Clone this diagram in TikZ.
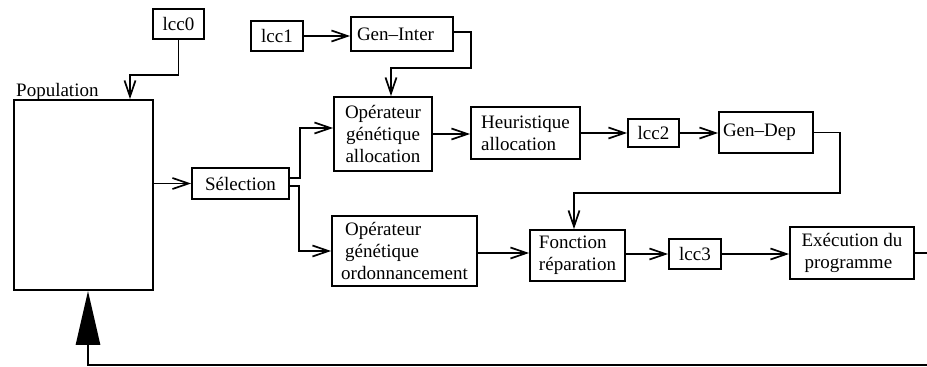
\documentclass[tikz,border=0pt]{standalone}
\usepackage{fontspec}
\setmainfont{Liberation Serif}
\usetikzlibrary{arrows.meta}
\begin{document}
\begin{tikzpicture}[x=1pt,y=-1pt,
  font=\fontsize{19}{22}\selectfont,
  box/.style={draw, line width=1.8pt, inner sep=0pt, align=center},
  lbox/.style={box, align=left},
  arr/.style={draw, line width=1.8pt, -{Straight Barb[length=16pt,width=11pt,line width=1.7pt]}},
  fb/.style={draw, line width=2.8pt, -{Triangle[length=54pt,width=24pt]}}]
\useasboundingbox (0,0) rectangle (927,367);

% population and selection
\node[box, minimum width=139pt, minimum height=190pt] (pop) at (83.5,195) {};
\node[anchor=base west, inner sep=0pt] (poplab) at (16,96) {Population};
\node[box, minimum width=51pt, minimum height=30pt] (lcc0) at (178.5,24) {lcc0};
\node[box, minimum width=97pt, minimum height=31pt] (sel) at (240.5,183.5) {Sélection};

% allocation branch
\node[box, minimum width=52pt, minimum height=30pt] (lcc1) at (277,36) {lcc1};
\node[lbox, minimum width=102pt, minimum height=34pt, inner xsep=6pt, text width=90pt] (geninter) at (402,34) {Gen--Inter};
\node[box, minimum width=98pt, minimum height=74pt] (opalloc) at (383,134) {Opérateur\\génétique\\allocation};
\node[lbox, minimum width=109pt, minimum height=52pt] (heur) at (525.5,133) {Heuristique\\allocation};
\node[box, minimum width=51pt, minimum height=28pt] (lcc2) at (653.5,133) {lcc2};
\node[lbox, minimum width=94pt, minimum height=41pt, inner xsep=4pt, text width=86pt] (gendep) at (766,132.5) {Gen--Dep};

% scheduling branch
\node[lbox, minimum width=145pt, minimum height=70pt] (opord) at (404.5,251) {\hspace*{4pt}Opérateur\\\hspace*{4pt}génétique\\ordonnancement};
\node[lbox, minimum width=95pt, minimum height=51pt] (fonc) at (577.5,255.5) {Fonction\\réparation};
\node[box, minimum width=52pt, minimum height=30pt] (lcc3) at (695,254) {lcc3};
\node[lbox, minimum width=124pt, minimum height=52pt] (exec) at (852,253) {Exécution du\\\hspace*{3pt}programme};

\coordinate (ret) at (932,365);

% connectors
\draw[arr] (lcc0.south) -- ++(0,35) -| ([xshift=46.5pt]pop.north);
\draw[arr] (pop.east |- sel.west) -- (sel.west);
\draw[arr] ([yshift=5.5pt]sel.east) -- ++(10,0) |- ([yshift=6pt]opalloc.west);
\draw[arr] ([yshift=-2.5pt]sel.east) -- ++(9,0) |- (opord.west);
\draw[arr] (lcc1.east) -- (lcc1.east -| geninter.west);
\draw[arr] ([yshift=2pt]geninter.east) -- ++(17,0) -- ++(0,36) -| ([xshift=8pt]opalloc.north);
\draw[arr] (opalloc.east) -- (opalloc.east -| heur.west);
\draw[arr] (heur.east) -- (lcc2.west);
\draw[arr] (lcc2.east) -- (lcc2.east -| gendep.west);
\draw[arr] (gendep.east) -- ++(26,0) -- ++(0,60.5) -| ([xshift=-3.5pt]fonc.north);
\draw[arr] ([yshift=-2pt]opord.east) -- ([yshift=-2pt]opord.east -| fonc.west);
\draw[arr] (lcc3.west -| fonc.east) -- (lcc3.west);
\draw[arr] (lcc3.east) -- (lcc3.east -| exec.west);
\draw[fb] (exec.east) -| (ret) -| ([xshift=4.5pt]pop.south);
\end{tikzpicture}
\end{document}
